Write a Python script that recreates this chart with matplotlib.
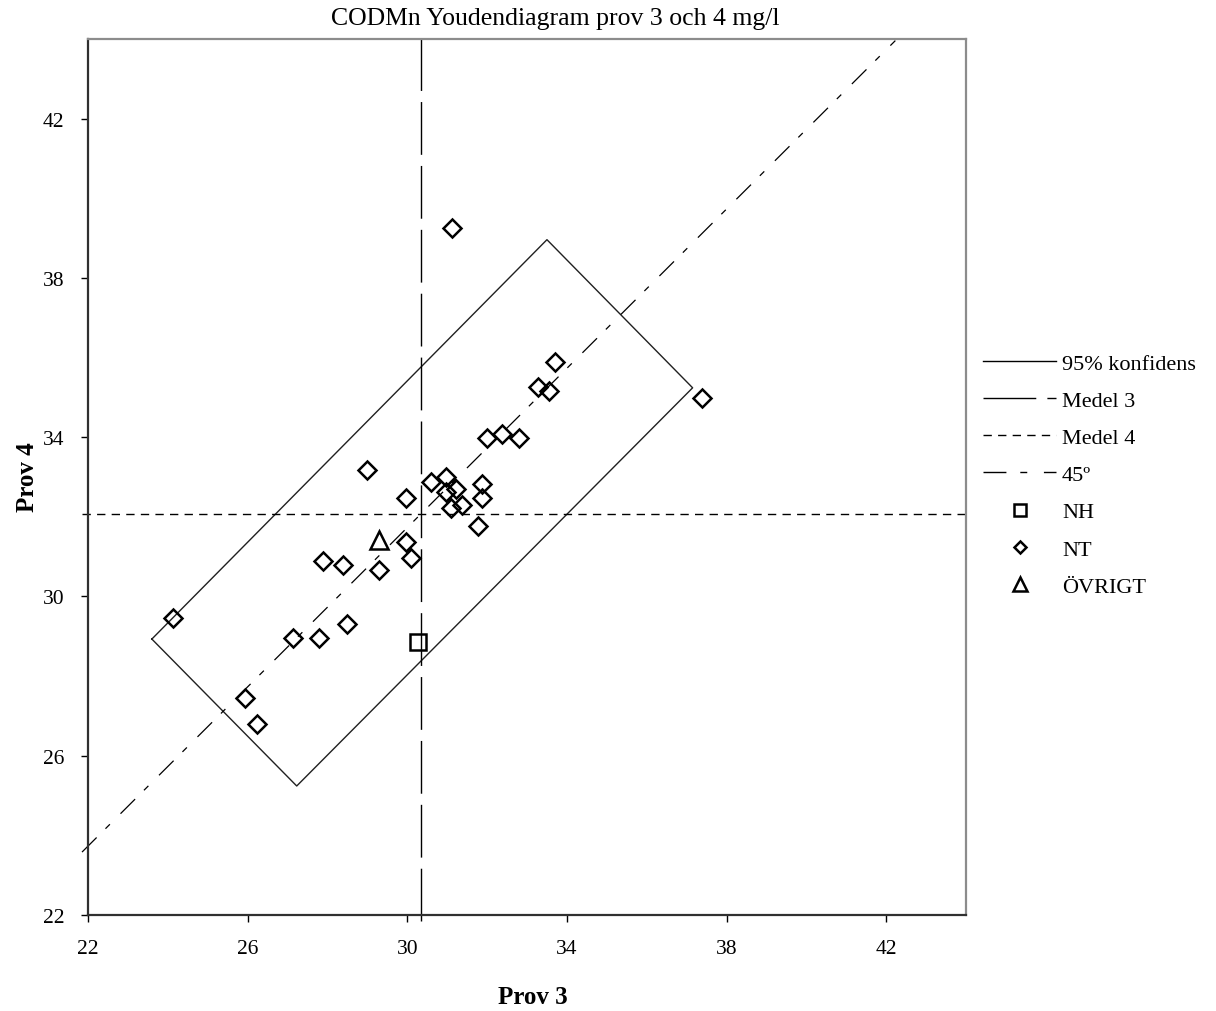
import matplotlib
matplotlib.use('Agg')
import matplotlib.pyplot as plt
from matplotlib.lines import Line2D
import numpy as np

plt.rcParams['font.family'] = ['Liberation Serif', 'DejaVu Serif']

# ---- data ----
title = "CODMn Youdendiagram prov 3 och 4 mg/l"
xlabel = "Prov 3"
ylabel = "Prov 4"
ticks = [22, 26, 30, 34, 38, 42]

nt_x = [24.13, 25.94, 26.23, 27.13, 27.78, 28.48, 27.90, 28.38, 28.98, 29.28,
        29.98, 30.09, 29.98, 30.59, 30.98, 30.98, 31.22, 31.09, 31.38, 31.88,
        31.88, 31.78, 31.13, 32.01, 32.37, 32.80, 33.28, 33.55, 33.70, 37.38]
nt_y = [29.46, 27.44, 26.80, 28.95, 28.95, 29.31, 30.88, 30.78, 33.18, 30.67,
        31.36, 30.97, 32.48, 32.87, 32.99, 32.62, 32.69, 32.22, 32.29, 32.83,
        32.48, 31.78, 39.26, 33.98, 34.08, 33.98, 35.27, 35.17, 35.89, 34.98]
nh_x = [30.28]
nh_y = [28.85]
ov_x = [29.30]
ov_y = [31.42]

mean3 = 30.35
mean4 = 32.08
conf_x = [23.60, 33.50, 37.15, 27.23, 23.60]
conf_y = [28.93, 38.96, 35.24, 25.24, 28.93]
diag_x = np.array([21.85, 42.23])
vline_y = [21.85, 44.18]
hline_x = [21.85, 44.0]

# ---- figure ----
W, H = 1216, 1012
fig = plt.figure(figsize=(W / 100, H / 100), dpi=100)
ax = fig.add_axes([88 / W, 1 - 916 / H, 878 / W, 876 / H])
ax.set_xlim(22, 44)
ax.set_ylim(22, 44)

ax.plot(conf_x, conf_y, color='#202020', lw=1.0, zorder=2)
ax.plot([mean3, mean3], vline_y, color='black', lw=1.0, dashes=(38, 8),
        clip_on=False, zorder=2)
ax.plot(hline_x, [mean4, mean4], color='black', lw=1.0, dashes=(6, 4.5),
        clip_on=False, zorder=2)
ax.plot(diag_x, diag_x + (mean4 - mean3), color='black', lw=0.9,
        dashes=(16.5, 10, 5, 12), clip_on=False, zorder=2)

ax.plot(nh_x, nh_y, linestyle='none', marker='s', ms=11.5, mfc='none',
        mec='black', mew=1.8, zorder=3)
ax.plot(nt_x, nt_y, linestyle='none', marker='D', ms=8.8, mfc='none',
        mec='black', mew=1.8, zorder=3)
ax.plot(ov_x, ov_y, linestyle='none', marker='^', ms=12.5, mfc='none',
        mec='black', mew=1.8, zorder=3)

ax.set_xticks(ticks)
ax.set_yticks(ticks)
ax.tick_params(direction='out', length=5, width=1, labelsize=15.5,
               colors='black')
ax.tick_params(axis='x', pad=12)
ax.tick_params(axis='y', pad=12)
for s in ['top', 'right']:
    ax.spines[s].set_color('#8c8c8c')
    ax.spines[s].set_linewidth(1.6)
for s in ['left', 'bottom']:
    ax.spines[s].set_color('#303030')
    ax.spines[s].set_linewidth(1.6)

fig.text(555 / W, 1 - 19 / H, title, ha='center', va='center', fontsize=18.5)
fig.text(533 / W, 1 - 998 / H, xlabel, ha='center', va='center',
         fontsize=18, fontweight='bold')
fig.text(27 / W, 1 - 477 / H, ylabel, ha='center', va='center',
         fontsize=18, fontweight='bold', rotation=90)

handles = [
    Line2D([], [], color='black', lw=1.0),
    Line2D([], [], color='black', lw=1.0, dashes=(38, 8)),
    Line2D([], [], color='black', lw=1.0, dashes=(6, 4.5)),
    Line2D([], [], color='black', lw=1.0, dashes=(16.5, 10, 5, 12)),
    Line2D([], [], linestyle='none', marker='s', ms=11.5, mfc='none', mec='black', mew=1.8),
    Line2D([], [], linestyle='none', marker='D', ms=8.8, mfc='none', mec='black', mew=1.8),
    Line2D([], [], linestyle='none', marker='^', ms=12.5, mfc='none', mec='black', mew=1.8),
]
labels = ['95% konfidens', 'Medel 3', 'Medel 4', '45º', 'NH', 'NT', 'ÖVRIGT']
fig.legend(handles, labels, loc='upper left',
           bbox_to_anchor=(983 / W, 1 - 354 / H), frameon=False,
           fontsize=16, handlelength=3.3, handletextpad=0.25,
           labelspacing=0.75, borderpad=0, borderaxespad=0, markerscale=0.75)

fig.savefig('out.png', dpi=100)
